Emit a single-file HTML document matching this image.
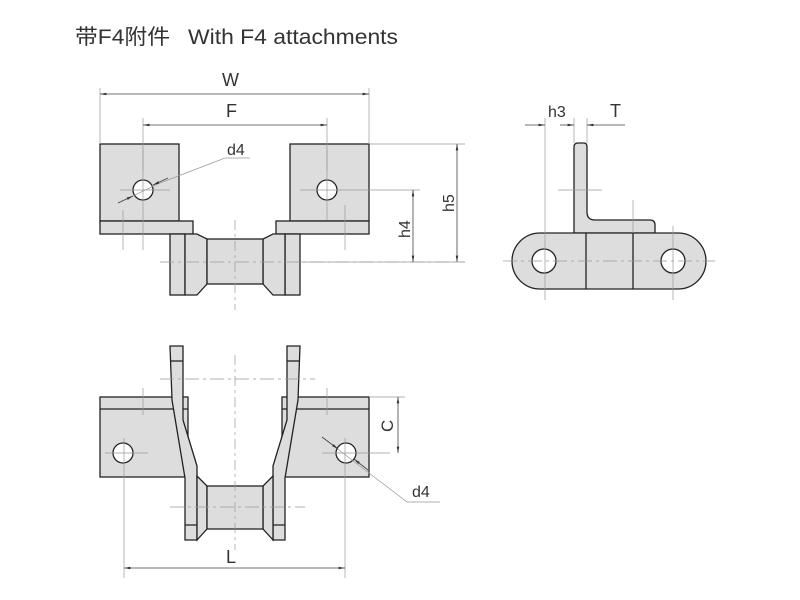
<!DOCTYPE html>
<html><head><meta charset="utf-8"><style>
html,body{margin:0;padding:0;background:#fff;width:800px;height:600px;overflow:hidden}
text{font-family:"Liberation Sans","Noto Sans CJK SC",sans-serif;fill:#333}
</style></head><body>
<svg width="800" height="600" viewBox="0 0 800 600" xmlns="http://www.w3.org/2000/svg">
<defs>
<marker id="a" viewBox="0 0 10 6" refX="10" refY="3" markerWidth="8" markerHeight="5" orient="auto-start-reverse"><path d="M0,1 L10,3 L0,5z" fill="#333"/></marker>
</defs>
<text x="75" y="44" font-size="21" textLength="95" lengthAdjust="spacingAndGlyphs">带F4附件</text>
<text x="188" y="44" font-size="21" textLength="210" lengthAdjust="spacingAndGlyphs">With F4 attachments</text>

<!-- TOP VIEW -->
<g stroke="#222" stroke-width="1.3" fill="#ddd">
<rect x="100" y="144" width="79" height="77"/>
<rect x="100" y="221" width="93" height="13"/>
<rect x="290" y="144" width="79" height="77"/>
<rect x="276" y="221" width="93" height="13"/>
<rect x="170" y="234" width="15" height="61"/>
<path d="M185,234 H197 L207,239 V284 L197,295 H185Z"/>
<rect x="285" y="234" width="15" height="61"/>
<path d="M285,234 H273 L263,239 V284 L273,295 H285Z"/>
<rect x="207" y="239" width="56" height="45"/>
<circle cx="143" cy="190" r="10" fill="#fff"/>
<circle cx="327" cy="190" r="10" fill="#fff"/>
</g>
<g stroke="#999" stroke-width="0.7" fill="none">
<path d="M143,150 V250 M120,190 H170 M327,150 V220 M300,190 H420 M123,210 V250 M345,205 V250"/>
<path d="M160,262 H465" stroke-dasharray="14,4,3,4"/>
<path d="M235,220 V310" stroke-dasharray="10,4,3,4"/>
<path d="M100,88 V144 M369,88 V144 M143,118 V170 M327,118 V170 M369,144 H465 M300,262 H465"/>
<path d="M118,203 L160,183 L225,158 H250"/>
</g>
<g stroke="#444" stroke-width="0.8" fill="none">
<path d="M100,94 H369" marker-start="url(#a)" marker-end="url(#a)"/>
<path d="M143,125 H327" marker-start="url(#a)" marker-end="url(#a)"/>
<path d="M457,144 V262" marker-start="url(#a)" marker-end="url(#a)"/>
<path d="M413,190 V262" marker-start="url(#a)" marker-end="url(#a)"/>
<path d="M118,203 L133,196" marker-end="url(#a)"/>
<path d="M168,178 L153,185" marker-end="url(#a)"/>
</g>
<text x="222" y="86" font-size="18">W</text>
<text x="226" y="117" font-size="18">F</text>
<text x="227" y="155" font-size="16">d4</text>
<text transform="translate(410,238) rotate(-90)" font-size="16">h4</text>
<text transform="translate(454,212) rotate(-90)" font-size="16">h5</text>

<!-- SIDE VIEW -->
<g stroke="#222" stroke-width="1.3" fill="#ddd">
<path d="M574,233 V147 Q574,143 578,143 H584 Q587,143 587,147 V212 Q587,220 595,220 H650 Q655,220 655,225 V233Z"/>
<path d="M540,233 H678 A28,28 0 0 1 678,289 H540 A28,28 0 0 1 540,233Z"/>
<circle cx="544" cy="261" r="12" fill="#fff"/>
<circle cx="673" cy="261" r="12" fill="#fff"/>
<path d="M586,233 V289 M633,233 V289" fill="none"/>
</g>
<g stroke="#999" stroke-width="0.7" fill="none">
<path d="M503,261 H715" stroke-dasharray="14,4,3,4"/>
<path d="M545,118 V300 M574,118 V143 M587,118 V143 M673,226 V300 M633,200 V233 M558,190 H602"/>
</g>
<g stroke="#444" stroke-width="0.8" fill="none">
<path d="M525,125 H545" marker-end="url(#a)"/>
<path d="M560,125 H574" marker-end="url(#a)"/>
<path d="M587,125 H625 M600,125 H587" marker-end="url(#a)"/>
</g>
<text x="548" y="117" font-size="16">h3</text>
<text x="610" y="117" font-size="18">T</text>

<!-- BOTTOM VIEW -->
<g stroke="#222" stroke-width="1.3" fill="#ddd">
<rect x="100" y="397" width="88" height="80"/>
<path d="M100,409 H188" fill="none"/>
<rect x="282" y="397" width="87" height="80"/>
<path d="M282,409 H369" fill="none"/>
<path d="M170,346 H183 V420 L197,466 V540 H185 V478 L172,400Z"/>
<path d="M170,361 H183" fill="none"/>
<path d="M300,346 H287 V420 L273,466 V540 H285 V478 L298,400Z"/>
<path d="M287,361 H300" fill="none"/>
<path d="M197,476 L207,486 V529 L197,540Z"/>
<path d="M273,476 L263,486 V529 L273,540Z"/>
<path d="M185,525 H197 M273,525 H285" fill="none"/>
<rect x="207" y="486" width="56" height="43"/>
<circle cx="123" cy="453" r="10" fill="#fff"/>
<circle cx="346" cy="453" r="10" fill="#fff"/>
</g>
<g stroke="#999" stroke-width="0.7" fill="none">
<path d="M160,379 H315 M170,507 H305" stroke-dasharray="14,4,3,4"/>
<path d="M235,355 V550" stroke-dasharray="10,4,3,4"/>
<path d="M124,438 V578 M345,438 V578 M105,453 H148 M322,453 H390 M143,388 V415 M327,388 V415 M369,397 H405"/>
<path d="M322,437 L407,502 H440"/>
</g>
<g stroke="#444" stroke-width="0.8" fill="none">
<path d="M124,568 H345" marker-start="url(#a)" marker-end="url(#a)"/>
<path d="M398,397 V453" marker-start="url(#a)" marker-end="url(#a)"/>
<path d="M322,437 L338,449" marker-end="url(#a)"/>
<path d="M368,470 L354,459" marker-end="url(#a)"/>
</g>
<text x="226" y="563" font-size="18">L</text>
<text transform="translate(393,432) rotate(-90)" font-size="17">C</text>
<text x="412" y="497" font-size="16">d4</text>
</svg>
</body></html>
